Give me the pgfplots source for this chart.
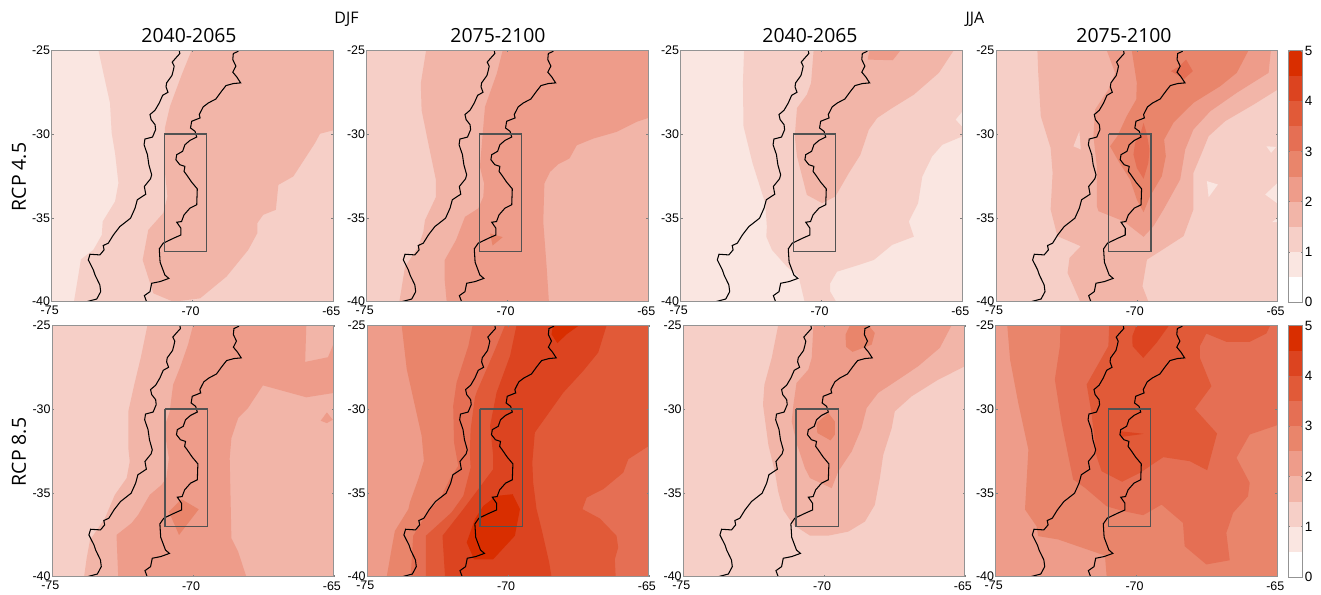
\documentclass[border=0pt]{standalone}
\usepackage{fontspec}
\usepackage{pgfplots}
\usepackage{pgfplotstable}
\pgfplotsset{compat=1.18}
\setmainfont{Liberation Sans}
\newfontfamily\titlefont{Open Sans}
\definecolor{lA}{HTML}{FAE6E1}
\definecolor{lB}{HTML}{F6CFC7}
\definecolor{lC}{HTML}{F2B5A8}
\definecolor{lD}{HTML}{EE9C8A}
\definecolor{lE}{HTML}{E9856B}
\definecolor{lF}{HTML}{E56F54}
\definecolor{lG}{HTML}{E15A38}
\definecolor{lH}{HTML}{DC4420}
\definecolor{lI}{HTML}{D92E00}
\pgfplotstableread{
lon lat
-70.47 -25.02
-70.45 -25.20
-70.59 -25.46
-70.72 -25.71
-70.65 -25.95
-70.68 -26.19
-70.73 -26.51
-70.92 -26.95
-70.94 -27.19
-70.87 -27.51
-71.06 -27.69
-71.18 -28.15
-71.33 -28.58
-71.51 -28.84
-71.47 -29.14
-71.33 -29.44
-71.31 -29.74
-71.42 -30.18
-71.69 -30.30
-71.72 -30.64
-71.60 -31.23
-71.55 -31.83
-71.45 -32.43
-71.49 -32.67
-71.71 -33.13
-71.66 -33.59
-71.96 -33.92
-72.04 -34.42
-72.20 -35.02
-72.58 -35.52
-72.81 -36.02
-72.99 -36.51
-73.17 -36.65
-73.14 -36.91
-73.29 -37.21
-73.64 -37.17
-73.70 -37.51
-73.52 -38.11
-73.46 -38.41
-73.29 -39.00
-73.26 -39.40
-73.40 -39.84
-73.76 -40.00
}\coast
\pgfplotstableread{
lon lat
-68.37 -25.06
-68.55 -25.20
-68.57 -25.56
-68.46 -25.95
-68.57 -26.31
-68.43 -26.59
-68.29 -26.95
-68.55 -26.99
-68.81 -27.11
-68.97 -27.45
-69.17 -27.91
-69.44 -28.15
-69.62 -28.38
-69.76 -28.84
-69.73 -29.04
-70.03 -29.24
-70.07 -29.64
-69.91 -29.84
-69.85 -30.18
-70.09 -30.38
-70.27 -30.64
-70.35 -31.03
-70.56 -31.23
-70.59 -31.53
-70.45 -31.83
-70.27 -31.93
-70.30 -32.23
-70.21 -32.43
-70.03 -32.87
-69.83 -33.27
-69.85 -34.22
-70.09 -34.42
-70.30 -34.82
-70.39 -35.22
-70.56 -35.26
-70.41 -35.62
-70.41 -36.02
-70.68 -36.22
-71.04 -36.51
-71.18 -36.85
-71.15 -37.65
-70.98 -38.41
-70.84 -38.61
-71.15 -38.80
-71.45 -38.90
-71.51 -39.40
-71.71 -39.64
-71.63 -40.00
}\andes
\pgfplotsset{panel/.style={
  scale only axis,width=281.6bp,height=251.5bp,anchor=south west,
  xmin=-75,xmax=-65,ymin=-40,ymax=-25,
  xtick={-75,-70,-65},ytick={-40,-35,-30,-25},
  tick align=inside,major tick length=2bp,
  tick style={gray,line width=.5bp},
  axis line style={draw=gray!85,line width=.9bp},
  axis on top,
  /pgf/number format/assume math mode=true,
  /pgf/number format/.cd,1000 sep={},
  /pgfplots/.cd,
  tick label style={font=\fontsize{12.5}{12.5}\selectfont},
  x tick label style={inner sep=0pt,yshift=-4.5bp,xshift=-2bp},
  y tick label style={inner sep=0pt,xshift=-1.5bp},
},
cbar/.style={
  scale only axis,width=14.4bp,height=251.5bp,anchor=south west,
  xmin=0,xmax=1,ymin=0,ymax=5,xtick=\empty,ytick={0,1,2,3,4,5},
  yticklabel pos=right,tick align=inside,major tick length=2bp,
  tick style={gray,line width=.5bp},
  axis line style={draw=gray!85,line width=.9bp},
  axis on top,
  /pgf/number format/assume math mode=true,
  tick label style={font=\fontsize{13.5}{13.5}\selectfont},
  y tick label style={inner sep=0pt,xshift=2bp},
}}
\newcommand\lv[2]{\addplot[fill=#1,draw=none,forget plot] coordinates {#2};}
\newcommand\bg[1]{\lv{#1}{(-75,-40)(-65,-40)(-65,-25)(-75,-25)}}
\newcommand\mapover{%
  \addplot[black,line width=1.05bp,forget plot] table[x=lon,y=lat] {\coast};
  \addplot[black,line width=1.05bp,forget plot] table[x=lon,y=lat] {\andes};
  \addplot[draw=black!68,line width=1.3bp,forget plot] coordinates {(-71,-30)(-69.5,-30)(-69.5,-37)(-71,-37)(-71,-30)};
}
\newcommand\cbarfill{%
  \lv{white}{(0,0)(1,0)(1,.5)(0,.5)}
  \lv{lA}{(0,.5)(1,.5)(1,1)(0,1)}
  \lv{lB}{(0,1)(1,1)(1,1.5)(0,1.5)}
  \lv{lC}{(0,1.5)(1,1.5)(1,2)(0,2)}
  \lv{lD}{(0,2)(1,2)(1,2.5)(0,2.5)}
  \lv{lE}{(0,2.5)(1,2.5)(1,3)(0,3)}
  \lv{lF}{(0,3)(1,3)(1,3.5)(0,3.5)}
  \lv{lG}{(0,3.5)(1,3.5)(1,4)(0,4)}
  \lv{lH}{(0,4)(1,4)(1,4.5)(0,4.5)}
  \lv{lI}{(0,4.5)(1,4.5)(1,5)(0,5)}
}
\begin{document}
\begin{tikzpicture}
\useasboundingbox (0,0) rectangle (1321bp,595bp);
% ---------- row 1
\begin{axis}[panel,at={(51.7bp,293.3bp)}]
\bg{lA}
\lv{lB}{(-73.34,-25)(-73.14,-26.55)(-72.93,-28.15)(-72.87,-29.94)(-72.75,-31.14)(-72.63,-32.93)(-72.75,-34.02)(-73.19,-35.22)(-73.22,-36.02)(-73.52,-36.91)(-73.96,-37.47)(-74.21,-40)(-65,-40)(-65,-25)}
\lv{lC}{(-70.03,-25)(-70.38,-26.45)(-70.8,-28.35)(-70.98,-29.64)(-71,-31.93)(-70.89,-33.73)(-71.04,-34.72)(-71.57,-35.72)(-71.77,-37.51)(-71.39,-39.5)(-70.68,-40)(-69.73,-39.8)(-68.79,-38.5)(-68.02,-36.91)(-67.7,-35.92)(-67.7,-35.32)(-67.49,-34.82)(-67.04,-34.52)(-66.95,-33.03)(-66.42,-32.53)(-65.65,-30.54)(-65.47,-29.98)(-65,-29.78)(-65,-25)}
\mapover
\end{axis}
\begin{axis}[panel,at={(366.7bp,293.3bp)}]
\bg{lB}
\lv{lC}{(-72.89,-25)(-73.08,-26.99)(-73.05,-28.58)(-72.81,-30.57)(-72.54,-32.75)(-72.54,-33.75)(-72.93,-35.14)(-72.99,-35.84)(-73.17,-36.73)(-73.64,-37.92)(-73.84,-40)(-65,-40)(-65,-25)}
\lv{lD}{(-70.17,-25)(-70.38,-26.39)(-70.8,-28.38)(-70.88,-29.97)(-70.98,-31.96)(-70.83,-32.95)(-70.86,-33.75)(-71.04,-34.44)(-71.51,-34.94)(-71.83,-36.33)(-72.23,-37.52)(-72.23,-38.72)(-72.16,-40)(-68.53,-40)(-68.61,-37.92)(-68.73,-35.24)(-68.69,-32.95)(-68.49,-32.26)(-68.2,-31.8)(-67.8,-31.46)(-67.54,-30.67)(-66.95,-30.27)(-66.12,-29.87)(-65.41,-29.27)(-65,-29.04)(-65,-25)}
\lv{lE}{(-70.62,-35.93)(-70.17,-36.15)(-70.53,-36.65)}
\mapover
\end{axis}
\begin{axis}[panel,at={(680.7bp,293.3bp)}]
\bg{lA}
\lv{lB}{(-72.75,-25)(-72.79,-26.95)(-72.77,-29.54)(-72.45,-31.73)(-72,-34.12)(-71.94,-35.52)(-71.96,-36.12)(-71.76,-36.91)(-71.23,-37.91)(-70.81,-38.51)(-70.6,-40)(-69.48,-40)(-69.69,-39.4)(-69.69,-38.9)(-69.45,-38.21)(-68.68,-37.81)(-68.14,-37.51)(-67.49,-36.61)(-66.72,-36.12)(-66.9,-35.22)(-66.57,-34.12)(-66.42,-32.53)(-66.07,-31.33)(-65.71,-30.64)(-65,-30.14)(-65,-29.58)(-65.24,-29.14)(-65,-28.65)(-65,-25)}
\lv{lC}{(-70.28,-25)(-70.37,-26.95)(-70.52,-27.65)(-70.87,-28.45)(-70.95,-30.14)(-70.87,-31.33)(-70.52,-33.63)(-69.98,-34.12)(-69.51,-33.73)(-69.03,-32.33)(-68.62,-31.24)(-68.32,-29.74)(-68.02,-29.04)(-67.49,-28.45)(-66.72,-27.65)(-65.83,-26.35)(-65.3,-25)}
\lv{lD}{(-68.3,-25)(-68.36,-25.56)(-67.47,-25.6)(-67.19,-25)}
\mapover
\end{axis}
\begin{axis}[panel,at={(996bp,293.3bp)}]
\bg{lB}
\lv{lA}{(-67.51,-32.81)(-67.12,-33.01)(-67.45,-33.77)}
\lv{lA}{(-65.4,-30.73)(-65.05,-30.77)(-65.23,-31.12)}
\lv{lA}{(-65,-32.91)(-65.44,-33.61)(-65,-34.15)}
\lv{lA}{(-65.2,-35.26)(-65,-35)(-65,-35.26)}
\lv{lC}{(-73.53,-25)(-73.5,-26.35)(-73.41,-28.94)(-73.06,-30.83)(-72.99,-32.32)(-73.06,-34.5)(-72.82,-36.09)(-71.99,-36.69)(-72.39,-37.39)(-72.46,-38.28)(-72.01,-40)(-69.59,-40)(-69.8,-39.08)(-69.64,-37.49)(-69.17,-36.99)(-68.34,-36.09)(-67.99,-34.5)(-67.99,-32.32)(-67.69,-31.12)(-67.45,-30.13)(-66.86,-29.23)(-65.85,-28.24)(-65,-27.35)(-65,-25)}
\lv{lB}{(-72.25,-30.73)(-72.04,-29.83)(-71.99,-30.92)}
\lv{lD}{(-71.07,-25)(-70.77,-26.35)(-71.01,-27.35)(-71.48,-28.54)(-71.54,-30.13)(-71.42,-31.92)(-71.42,-34.3)(-71.36,-34.6)(-70.47,-35.2)(-69.76,-36.13)(-69.41,-35.5)(-69.05,-34.5)(-68.46,-32.71)(-68.28,-30.92)(-67.99,-29.73)(-67.39,-28.64)(-66.45,-27.54)(-65.32,-26.35)(-65.24,-25)}
\lv{lE}{(-70.18,-25)(-70,-26.95)(-70.02,-27.94)(-70.36,-28.94)(-70.69,-30.13)(-70.95,-30.73)(-70.65,-31.62)(-70.24,-32.71)(-70,-33.91)(-69.76,-34.66)(-69.53,-33.71)(-69.11,-32.51)(-68.97,-31.32)(-69.03,-30.33)(-68.7,-29.33)(-67.99,-28.14)(-67.04,-27.15)(-66.45,-26.35)(-66.03,-25)}
\lv{lF}{(-69.76,-29.33)(-69.64,-30.03)(-69.55,-30.92)(-69.59,-31.72)(-69.76,-32.67)(-70,-32.02)(-70.12,-31.22)(-70.06,-30.53)(-69.88,-30.03)}
\lv{lF}{(-68.25,-25.56)(-68.01,-26.25)(-68.32,-26.71)(-68.79,-26.25)(-68.48,-25.95)}
\mapover
\end{axis}
\begin{axis}[cbar,at={(1288.3bp,292.7bp)}]
\cbarfill
\end{axis}
% ---------- row 2
\begin{axis}[panel,at={(52.3bp,18.3bp)}]
\bg{lB}
\lv{lC}{(-71.62,-25)(-71.86,-26.95)(-72.09,-28.55)(-72.3,-30.14)(-72.3,-32.33)(-72.25,-33.13)(-72.36,-34.12)(-72.78,-35.12)(-73.13,-36.51)(-73.66,-37.81)(-73.78,-38.9)(-73.87,-40)(-65,-40)(-65,-25)}
\lv{lD}{(-70,-25)(-70.18,-26.16)(-70.47,-27.55)(-70.71,-28.55)(-70.83,-30.14)(-71.03,-31.14)(-70.86,-32.93)(-70.95,-34.12)(-71.12,-34.52)(-71.54,-35.12)(-71.95,-36.31)(-72.19,-36.81)(-72.72,-37.51)(-72.66,-40)(-68.11,-40)(-68.4,-38.51)(-68.64,-37.71)(-68.7,-32.93)(-68.64,-31.73)(-68.4,-30.54)(-68.05,-29.94)(-67.52,-28.59)(-65.98,-29.3)(-65,-29.04)(-65,-26.06)(-65.21,-26.91)(-66.02,-27.19)(-65.98,-25)}
\lv{lE}{(-70.41,-35.38)(-69.8,-35.98)(-70.5,-37.51)(-70.86,-36.12)}
\lv{lD}{(-65.25,-30.2)(-65.04,-30.64)(-65.25,-30.84)(-65.47,-30.7)}
\mapover
\end{axis}
\begin{axis}[panel,at={(367.3bp,18.3bp)}]
\bg{lD}
\lv{lE}{(-73.78,-25)(-73.6,-27.62)(-73.07,-31.6)(-72.99,-33.09)(-73.19,-34.18)(-73.49,-35.58)(-73.54,-35.97)(-74.02,-37.27)(-74.14,-38.36)(-74.31,-40)(-65,-40)(-65,-25)}
\lv{lF}{(-71.26,-25)(-71.41,-26.23)(-71.83,-28.42)(-71.95,-29.81)(-71.92,-32)(-71.77,-33.39)(-72.07,-34.18)(-72.42,-35.38)(-72.87,-36.17)(-73.37,-37.56)(-73.46,-40)(-65,-40)(-65,-25)}
\lv{lG}{(-70.11,-25)(-70.5,-26.6)(-71.11,-28.96)(-71.18,-29.31)(-71.33,-31.2)(-71.36,-32.59)(-71.33,-33.49)(-71.59,-35.18)(-72.01,-36.17)(-72.92,-37.56)(-72.92,-40)(-66.18,-40)(-66.21,-38.96)(-66.09,-38.26)(-66.15,-37.56)(-66.74,-36.53)(-67.36,-35.97)(-67.21,-35.28)(-66.62,-34.78)(-65.91,-33.79)(-65.73,-32.99)(-65,-32.2)(-65,-25)}
\lv{lH}{(-69.7,-25)(-69.93,-26.83)(-70.41,-29.02)(-70.64,-31)(-70.53,-32.79)(-70.53,-33.59)(-71.06,-34.78)(-71.59,-35.97)(-72.33,-37.56)(-72.24,-40)(-68.46,-40)(-68.54,-39.16)(-68.81,-37.17)(-68.99,-35.97)(-69.11,-34.38)(-69.14,-33.19)(-69.05,-31.4)(-68.63,-30.41)(-68.04,-29.02)(-67.33,-27.72)(-66.8,-26.63)(-66.5,-25)}
\lv{lI}{(-69.84,-35.08)(-69.58,-35.97)(-69.76,-37.56)(-70.53,-38.96)(-71.21,-38.96)(-71.47,-37.96)(-71.18,-36.57)(-70.88,-35.78)(-70.41,-35.18)}
\lv{lI}{(-68.4,-25)(-68.46,-25.54)(-68.25,-26.07)(-67.92,-25.54)(-67.47,-25)}
\mapover
\end{axis}
\begin{axis}[panel,at={(683.3bp,18.3bp)}]
\bg{lB}
\lv{lC}{(-71.63,-25)(-71.86,-26.95)(-72.12,-28.55)(-72.17,-29.74)(-71.98,-32.13)(-71.75,-33.73)(-71.63,-34.92)(-71.45,-36.02)(-71.09,-36.91)(-70.5,-37.55)(-69.85,-37.55)(-69.14,-37.31)(-68.55,-36.71)(-68.2,-35.72)(-68.02,-34.12)(-67.9,-32.73)(-67.6,-31.14)(-67.49,-30.14)(-66.89,-29.24)(-65.95,-28.25)(-65,-27.45)(-65,-25)}
\lv{lD}{(-70.38,-25)(-70.44,-26.95)(-70.56,-27.65)(-70.98,-28.45)(-71.09,-29.74)(-71.15,-30.74)(-70.98,-32.03)(-70.68,-33.53)(-70.5,-34.12)(-69.73,-34.72)(-69.5,-33.73)(-69.02,-32.53)(-68.67,-31.14)(-68.49,-29.94)(-68.08,-29.04)(-67.37,-28.25)(-66.66,-27.45)(-65.89,-26.35)(-65.47,-25)}
\lv{lE}{(-69.08,-25)(-69.24,-25.56)(-69.22,-26.29)(-68.99,-26.59)(-68.31,-26.16)(-68.2,-25.46)(-68.43,-25)}
\lv{lE}{(-69.85,-30.24)(-69.62,-30.74)(-69.62,-31.53)(-69.77,-31.87)(-70.24,-31.43)(-70.27,-30.84)}
\mapover
\end{axis}
\begin{axis}[panel,at={(995.7bp,18.3bp)}]
\bg{lD}
\lv{lE}{(-74.59,-25)(-74.49,-27.05)(-74.2,-29.63)(-73.84,-32.42)(-73.96,-35.99)(-73.55,-36.99)(-73.49,-37.58)(-72.78,-37.78)(-71.12,-38.74)(-71.06,-40)(-65,-40)(-65,-25)}
\lv{lF}{(-72.7,-25)(-72.72,-26.25)(-72.9,-28.24)(-72.66,-30.82)(-72.42,-32.81)(-72.25,-34.2)(-71.83,-34.7)(-71.06,-35.8)(-70.47,-36.09)(-69.76,-36.33)(-69.11,-35.7)(-68.35,-36.79)(-68.29,-38.18)(-67.52,-39.27)(-66.69,-39.02)(-66.81,-37.39)(-66.57,-36.19)(-66.04,-35.2)(-65.98,-34.4)(-66.45,-32.91)(-65.98,-31.52)(-65,-30.96)(-65,-25)}
\lv{lG}{(-70.97,-25)(-71,-26.25)(-71.77,-28.54)(-71.6,-30.23)(-71.42,-32.81)(-71.24,-33.71)(-70.51,-34.34)(-69.88,-33.81)(-69.05,-32.87)(-68.11,-33.11)(-67.49,-33.65)(-67.14,-31.46)(-67.93,-29.99)(-67.34,-28.64)(-67.75,-26.95)(-67.75,-26.25)(-67.52,-25.5)(-66.81,-25.99)(-65.98,-25.99)(-65.39,-25.5)(-65.25,-25)}
\lv{lH}{(-70,-25)(-70.15,-25.66)(-70.14,-26.25)(-69.76,-26.95)(-69.29,-26.05)(-68.84,-25)}
\lv{lH}{(-70.59,-31.32)(-69.74,-31.48)(-70.53,-31.66)}
\mapover
\end{axis}
\begin{axis}[cbar,at={(1288.3bp,18bp)}]
\cbarfill
\end{axis}
% ---------- labels
\node[font=\titlefont\fontsize{19.5}{20}\selectfont] at (189bp,559bp) {2040-2065};
\node[font=\titlefont\fontsize{19.5}{20}\selectfont] at (498bp,559bp) {2075-2100};
\node[font=\titlefont\fontsize{19.5}{20}\selectfont] at (810bp,559bp) {2040-2065};
\node[font=\titlefont\fontsize{19.5}{20}\selectfont] at (1124bp,559bp) {2075-2100};
\node[font=\titlefont\fontsize{16}{18}\selectfont] at (346.5bp,576bp) {DJF};
\node[font=\titlefont\fontsize{16}{18}\selectfont] at (975bp,576bp) {JJA};
\node[font=\titlefont\fontsize{19.5}{20}\selectfont,rotate=90] at (19bp,418bp) {RCP 4.5};
\node[font=\titlefont\fontsize{19.5}{20}\selectfont,rotate=90] at (19bp,143bp) {RCP 8.5};
\end{tikzpicture}
\end{document}
